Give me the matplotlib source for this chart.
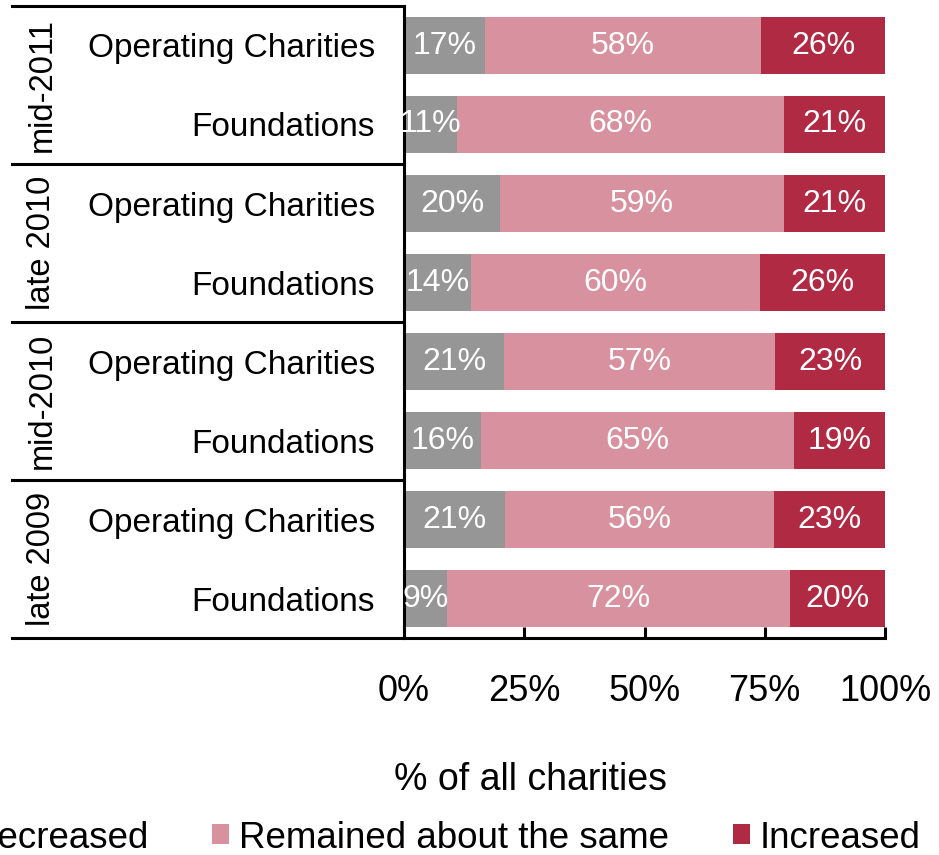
import matplotlib
matplotlib.use("Agg")
import matplotlib.pyplot as plt
import matplotlib.transforms as mtransforms
import numpy as np

plt.rcParams['font.family'] = ['Liberation Sans', 'DejaVu Sans']

periods = ['mid-2011', 'late 2010', 'mid-2010', 'late 2009']
kinds = ['Operating Charities', 'Foundations']
series = ['Decreased', 'Remained about the same', 'Increased']
# rows top to bottom: (period, kind)
decreased = [17, 11, 20, 14, 21, 16, 21, 9]
same = [58, 68, 59, 60, 57, 65, 56, 72]
increased = [26, 21, 21, 26, 23, 19, 23, 20]
colors = ['#969696', '#d8929f', '#b02a44']

data = np.array([decreased, same, increased], dtype=float)
shares = data / data.sum(axis=0)

fig = plt.figure(figsize=(9.39, 8.55), dpi=100)
ax = fig.add_axes([404 / 939, 1 - 638 / 855, 481 / 939, 632 / 855])

n = len(decreased)
ypos = np.arange(n)[::-1]
left = np.zeros(n)
for i in range(3):
    bars = ax.barh(ypos, shares[i], left=left, height=0.71, color=colors[i],
                   label=series[i])
    for y, l, w, v in zip(ypos, left, shares[i], data[i]):
        ax.text(l + w / 2, y, '%d%%' % v, ha='center', va='center',
                color='white', fontsize=23)
    left = left + shares[i]

ax.set_xlim(0, 1)
ax.set_ylim(-0.5, n - 0.5)
ax.set_xticks([0, 0.25, 0.5, 0.75, 1.0])
ax.set_xticklabels(['0%', '25%', '50%', '75%', '100%'], fontsize=26)
ax.tick_params(axis='x', direction='in', length=8, width=2.2, pad=26)
ax.set_yticks(ypos)
ax.set_yticklabels(kinds * len(periods), fontsize=24)
ax.tick_params(axis='y', length=0, pad=21)
for s in ['top', 'right']:
    ax.spines[s].set_visible(False)
for s in ['left', 'bottom']:
    ax.spines[s].set_linewidth(2.2)

# multi-level category lines
trans = mtransforms.blended_transform_factory(ax.transAxes, ax.transData)
xl = -392 / 481
for b in [-0.5, 1.5, 3.5, 5.5, 7.5]:
    ax.plot([xl, 0], [b, b], color='black', lw=2.2, transform=trans, clip_on=False)
for k, p in enumerate(periods):
    yc = n - 1 - (2 * k + 0.5)
    ax.text(-362 / 481, yc, p, rotation=90, ha='center', va='center',
            fontsize=23.5, transform=trans)

fig.text(530 / 939, 1 - 780 / 855, '% of all charities', ha='center',
         va='center', fontsize=27)
fig.legend(loc='center', bbox_to_anchor=(0.4605, 1 - 838 / 855), ncol=3,
           frameon=False, fontsize=26.5, handlelength=0.45, handleheight=0.45,
           handletextpad=0.27, columnspacing=1.75)

fig.savefig('out.png', dpi=100)
